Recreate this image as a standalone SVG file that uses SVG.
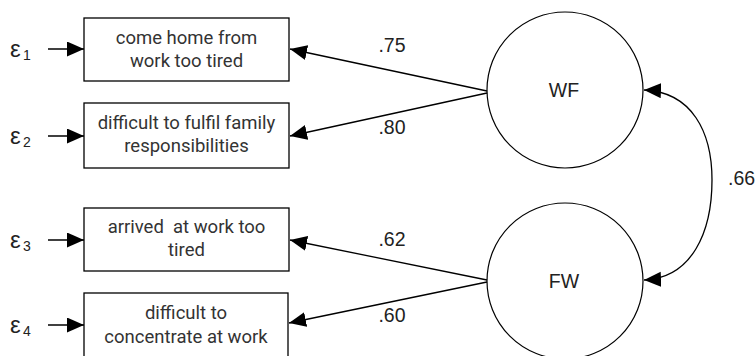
<svg xmlns="http://www.w3.org/2000/svg" width="756" height="356" viewBox="0 0 756 356">
<style>
.box{fill:#fff;stroke:#000;stroke-width:1.3}
.lat{fill:#fff;stroke:#000;stroke-width:1.2}
.bt{font-family:Roboto,"Liberation Sans",sans-serif;font-size:18.5px;fill:#333;text-anchor:middle}
.lt{font-family:"Liberation Sans",Arial,sans-serif;font-size:19.5px;fill:#222}
.eps{font-family:"Liberation Sans",Arial,sans-serif;font-size:24px;fill:#222}
.sub{font-family:"Liberation Sans",Arial,sans-serif;font-size:14px;fill:#222}
.ln{stroke:#000;stroke-width:1.3;fill:none}
</style>
<defs>
<marker id="ah" markerUnits="userSpaceOnUse" markerWidth="18" markerHeight="16" refX="17" refY="7.5" orient="auto-start-reverse">
<path d="M0,0 L17,7.5 L0,15 z" fill="#000"/>
</marker>
</defs>
<g id="e1"><text class="eps" x="10" y="57">ε</text><text class="sub" x="23" y="60">1</text></g>
<g id="e2"><text class="eps" x="10" y="144">ε</text><text class="sub" x="23" y="147">2</text></g>
<g id="e3"><text class="eps" x="10" y="248">ε</text><text class="sub" x="23" y="251">3</text></g>
<g id="e4"><text class="eps" x="10" y="333">ε</text><text class="sub" x="23" y="336">4</text></g>
<g id="box1"><rect class="box" x="84" y="18" width="205" height="63"/><text class="bt" x="186.5" y="44">come home from</text><text class="bt" x="186.5" y="67">work too tired</text></g>
<g id="box2"><rect class="box" x="84" y="103" width="205" height="65"/><text class="bt" x="186.5" y="129">difficult to fulfil family</text><text class="bt" x="186.5" y="152">responsibilities</text></g>
<g id="box3"><rect class="box" x="84" y="208" width="205" height="63"/><text class="bt" x="186.5" y="233" xml:space="preserve">arrived  at work too</text><text class="bt" x="186.5" y="256">tired</text></g>
<g id="box4"><rect class="box" x="84" y="293" width="204" height="65"/><text class="bt" x="186" y="319">difficult to</text><text class="bt" x="186" y="343">concentrate at work</text></g>
<g id="WF"><circle class="lat" cx="565" cy="90" r="78"/><text class="lt" x="564" y="97" text-anchor="middle">WF</text></g>
<g id="FW"><circle class="lat" cx="565" cy="281" r="78"/><text class="lt" x="564" y="288" text-anchor="middle">FW</text></g>
<g id="connectors">
<line class="ln" x1="48" y1="49" x2="84" y2="49" marker-end="url(#ah)"/>
<line class="ln" x1="48" y1="136" x2="84" y2="136" marker-end="url(#ah)"/>
<line class="ln" x1="48" y1="240" x2="84" y2="240" marker-end="url(#ah)"/>
<line class="ln" x1="48" y1="325" x2="84" y2="325" marker-end="url(#ah)"/>
<line class="ln" x1="487" y1="91" x2="290" y2="49" marker-end="url(#ah)"/>
<line class="ln" x1="487" y1="93" x2="290" y2="136" marker-end="url(#ah)"/>
<line class="ln" x1="487" y1="280" x2="290" y2="240" marker-end="url(#ah)"/>
<line class="ln" x1="487" y1="282" x2="289" y2="323" marker-end="url(#ah)"/>
<path class="ln" d="M644,90 C692,92 712,132 712,180 C712,232 692,278 644,280" marker-start="url(#ah)" marker-end="url(#ah)"/>
</g>
<g id="labels">
<text class="lt" x="392" y="52" text-anchor="middle">.75</text>
<text class="lt" x="392" y="134" text-anchor="middle">.80</text>
<text class="lt" x="392" y="246" text-anchor="middle">.62</text>
<text class="lt" x="392" y="322" text-anchor="middle">.60</text>
<text class="lt" x="728" y="185">.66</text>
</g>
</svg>
